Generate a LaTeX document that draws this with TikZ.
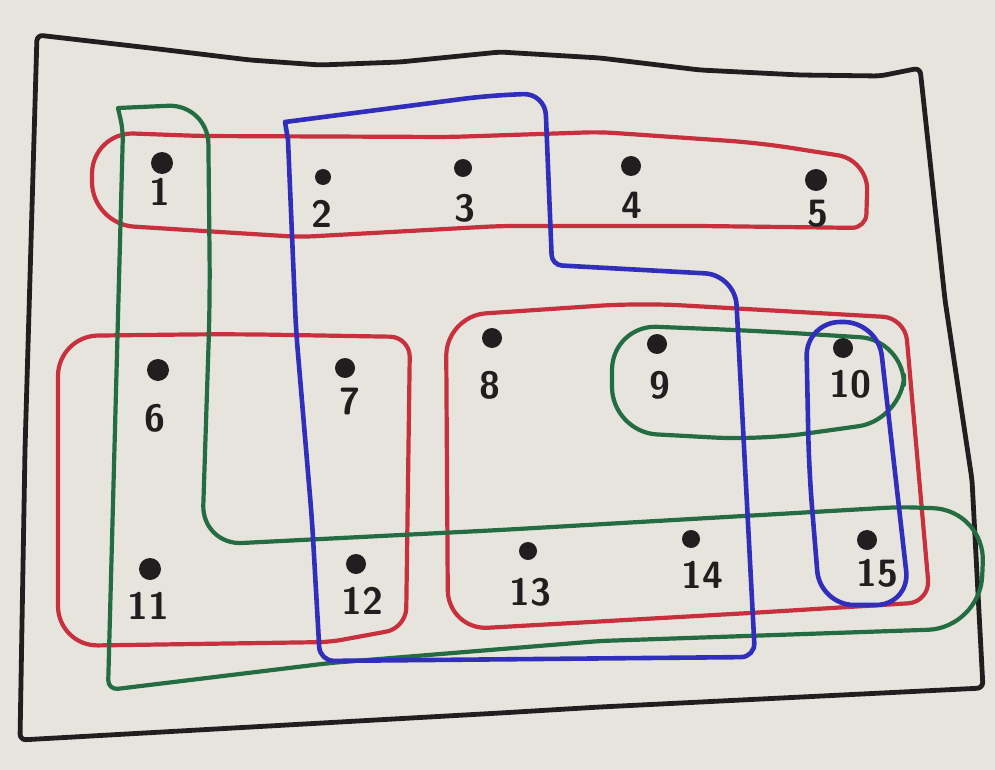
\documentclass[tikz,border=0pt]{standalone}
\usepackage{fontspec}
\definecolor{paper}{RGB}{230,228,221}
\definecolor{hred}{RGB}{200,48,62}
\definecolor{hgreen}{RGB}{36,108,66}
\definecolor{hblue}{RGB}{48,46,186}
\definecolor{ink}{RGB}{32,30,30}
\tikzset{
  dotfill/.style={fill=ink},
  lbl/.style={font=\sffamily\bfseries\fontsize{38}{38}\selectfont, text=ink, inner sep=0pt},
  redge/.style={draw=hred, line width=4.2pt, line join=round},
  gedge/.style={draw=hgreen, line width=4.2pt, line join=round},
  bedge/.style={draw=hblue, line width=4.6pt, line join=round},
  frame/.style={draw=ink, line width=4.8pt, line join=round},
}
\begin{document}
\begin{tikzpicture}[x=1pt, y=-1pt]
\useasboundingbox (0,0) rectangle (995,770);
\fill[paper] (0,0) rectangle (995,770);

% outer frame
\draw[frame, rounded corners=6pt] (37,35) -- (150,48) -- (250,60) -- (320,65) -- (400,62) -- (500,52) -- (600,58) -- (700,70) -- (800,75) -- (880,76) -- (920,68)
  -- (945,300) -- (972,480) -- (983,688) -- (600,707) -- (500,713) -- (20,740) -- (25,450) -- cycle;

% red hyperedges
\draw[redge] (200,136) [rounded corners=42pt] -- (92,132) -- (92,224) [rounded corners=14pt] -- (300,237) -- (500,226) -- (700,226) [rounded corners=14pt] -- (866,228) [rounded corners=30pt] -- (868,160) -- (760,143) [rounded corners=14pt] -- (600,132) -- (450,137) -- cycle;
\draw[redge] (230,334) [rounded corners=20pt] -- (410,337) -- (406,628) [rounded corners=12pt] -- (330,642) [rounded corners=40pt] -- (58,646) -- (58,336) -- cycle;
\draw[redge] (640,303) [rounded corners=22pt] -- (905,318) -- (930,602) [rounded corners=12pt] -- (750,613) [rounded corners=40pt] -- (448,630) -- (446,316) -- cycle;

% green hyperedges
\draw[gedge] (118,108) [rounded corners=40pt] -- (208,104) -- (210,300) -- (202,545) [rounded corners=14pt] -- (500,530) -- (900,507) [rounded corners=52pt] -- (985,510) -- (980,628) [rounded corners=10pt] -- (600,641) -- (330,663) -- (108,690) -- (123,130) [sharp corners] -- cycle;
\draw[gedge] (760,331) [rounded corners=45pt] -- (905,340) -- (903,420) -- (760,440) -- (612,432) -- (612,325) -- cycle;

% blue hyperedges
\draw[bedge] (285,122) [rounded corners=22pt] -- (485,96) -- (545,93) [rounded corners=10pt] -- (552,265) [rounded corners=30pt] -- (735,275) [rounded corners=14pt] -- (755,657) -- (320,661) [rounded corners=20pt] -- (312,520) -- (296,330) [sharp corners] -- (288,140) -- cycle;
\draw[bedge] (809,470) [rounded corners=34pt] -- (806,322) -- (878,322) -- (910,605) -- (820,605) -- cycle;

% vertices
\coordinate (v1) at (162,163);
\coordinate (v2) at (323,177);
\coordinate (v3) at (463,168);
\coordinate (v4) at (631,166);
\coordinate (v5) at (816,180);
\coordinate (v6) at (158,370);
\coordinate (v7) at (345,368);
\coordinate (v8) at (492,338);
\coordinate (v9) at (657,344);
\coordinate (v10) at (843,348);
\coordinate (v11) at (150,569);
\coordinate (v12) at (356,564);
\coordinate (v13) at (528,551);
\coordinate (v14) at (691,539);
\coordinate (v15) at (867,540);
\fill[dotfill] (v1) circle[radius=11pt];
\fill[dotfill] (v2) circle[radius=8pt];
\fill[dotfill] (v3) circle[radius=9pt];
\fill[dotfill] (v4) circle[radius=10pt];
\fill[dotfill] (v5) circle[radius=11pt];
\fill[dotfill] (v6) circle[radius=11pt];
\fill[dotfill] (v7) circle[radius=10pt];
\fill[dotfill] (v8) circle[radius=10pt];
\fill[dotfill] (v9) circle[radius=10pt];
\fill[dotfill] (v10) circle[radius=10pt];
\fill[dotfill] (v11) circle[radius=11pt];
\fill[dotfill] (v12) circle[radius=10pt];
\fill[dotfill] (v13) circle[radius=9pt];
\fill[dotfill] (v14) circle[radius=9pt];
\fill[dotfill] (v15) circle[radius=10pt];

% labels
\node[lbl] (l1) at (160,192) {1};
\node[lbl] (l2) at (322,214) {2};
\node[lbl] (l3) at (465,208) {3};
\node[lbl] (l4) at (632,205) {4};
\node[lbl] (l5) at (818,214) {5};
\node[lbl] (l6) at (155,418) {6};
\node[lbl] (l7) at (350,402) {7};
\node[lbl] (l8) at (490,385) {8};
\node[lbl] (l9) at (660,385) {9};
\node[lbl] (l10) at (850,384) {10};
\node[lbl] (l11) at (148,606) {11};
\node[lbl] (l12) at (362,601) {12};
\node[lbl] (l13) at (530,592) {13};
\node[lbl] (l14) at (702,575) {14};
\node[lbl] (l15) at (877,573) {15};
\end{tikzpicture}
\end{document}
